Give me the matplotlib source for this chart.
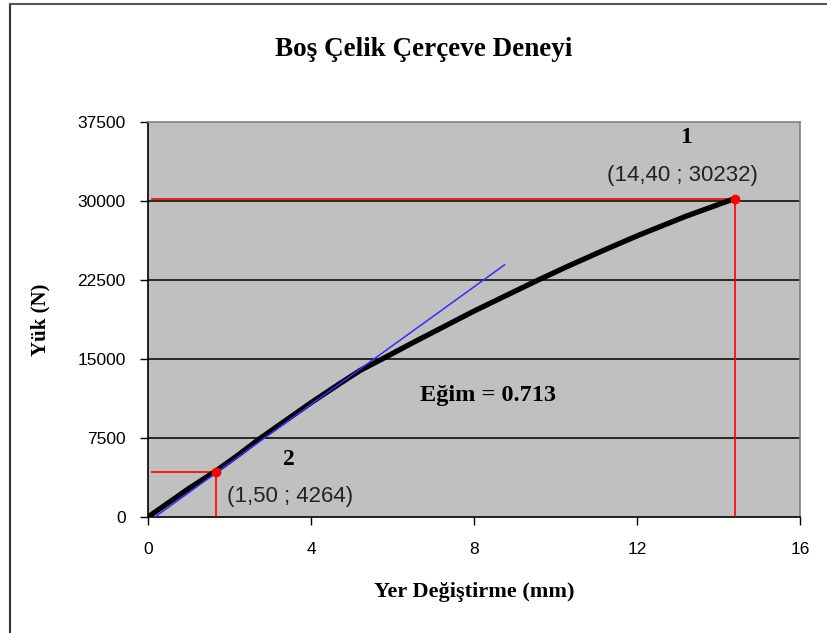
import matplotlib
matplotlib.use("Agg")
import matplotlib.pyplot as plt
from matplotlib.lines import Line2D

# Data
disp = [0, 0.5, 1.0, 1.66, 2.2, 2.71, 3.3, 4.0, 4.7, 5.2, 5.77, 6.5, 7.2, 8.0, 8.8,
        9.55, 10.3, 11.2, 12.07, 13.2, 14.4]
load = [0, 1350, 2700, 4350, 5850, 7350, 8950, 10850, 12650, 13900, 15050, 16550, 17950,
        19550, 21050, 22450, 23800, 25350, 26800, 28550, 30232]

tangent_x = [0.17, 8.75]
tangent_y = [0, 23940]

p1 = (14.40, 30232)
p2 = (1.66, 4264)
p1_label = "(14,40 ; 30232)"
p2_label = "(1,50 ; 4264)"
ref_line_start = 0.1

xticks = [0, 4, 8, 12, 16]
yticks = [0, 7500, 15000, 22500, 30000, 37500]

title = "Boş Çelik Çerçeve Deneyi"
xlabel = "Yer Değiştirme (mm)"
ylabel = "Yük (N)"
slope_text = "Eğim = 0.713"

serif = ["Liberation Serif", "DejaVu Serif"]
sans = ["Liberation Sans", "DejaVu Sans"]

fig = plt.figure(figsize=(8.27, 6.33), dpi=100)
ax = fig.add_axes([148/827, 1-517/633, (800-148)/827, (517-122)/633])
ax.set_facecolor("#C0C0C0")

ax.set_xlim(0, 16)
ax.set_ylim(0, 37500)
ax.set_xticks(xticks)
ax.set_yticks(yticks)
ax.set_xticklabels([str(t) for t in xticks], family=sans, fontsize=12.5)
ax.set_yticklabels([str(t) for t in yticks], family=sans, fontsize=12.5)
ax.tick_params(axis="x", direction="out", length=6, width=1, pad=12, color="black")
ax.tick_params(axis="y", direction="out", length=6, width=1, pad=10, color="black")

for y in yticks[1:-1]:
    ax.axhline(y, color="black", lw=1.1, zorder=1)

for s in ["top", "right"]:
    ax.spines[s].set_color("#808080")
    ax.spines[s].set_linewidth(1.2)
for s in ["left", "bottom"]:
    ax.spines[s].set_color("black")
    ax.spines[s].set_linewidth(1.2)

# red reference lines
ax.plot([ref_line_start, p1[0]], [p1[1], p1[1]], color="red", lw=1.2, zorder=3)
ax.plot([p1[0], p1[0]], [0, p1[1]], color="red", lw=1.2, zorder=3)
ax.plot([ref_line_start, p2[0]], [p2[1], p2[1]], color="red", lw=1.2, zorder=3)
ax.plot([p2[0], p2[0]], [0, p2[1]], color="red", lw=1.2, zorder=3)

# curve
ax.plot(disp, load, color="black", lw=3.8, zorder=4, solid_capstyle="round", solid_joinstyle="round")
# tangent
ax.plot(tangent_x, tangent_y, color="#3030FF", lw=1.1, zorder=5)

ax.plot([p1[0], p2[0]], [p1[1], p2[1]], "o", color="red", ms=6, zorder=6)

ax.text(13.2, 36000, "1", family=serif, fontweight="bold", fontsize=17, ha="center", va="center")
ax.text(13.12, 32400, p1_label, family=sans, fontsize=16, ha="center", va="center", color="#222222")
ax.text(3.45, 5500, "2", family=serif, fontweight="bold", fontsize=17, ha="center", va="center")
ax.text(3.48, 1900, p2_label, family=sans, fontsize=16, ha="center", va="center", color="#222222")
ax.text(8.35, 11500, slope_text, family=serif, fontweight="bold", fontsize=17.5, ha="center", va="center")

fig.text(424/827, 1-50/633, title, family=serif, fontweight="bold", fontsize=19.5, ha="center", va="center")
fig.text(474/827, 1-592/633, xlabel, family=serif, fontweight="bold", fontsize=16, ha="center", va="center")
fig.text(40/827, 1-320/633, ylabel, family=serif, fontweight="bold", fontsize=15, ha="center", va="center", rotation=90)

# outer frame (top and left visible)
fig.add_artist(Line2D([10/827, 10/827], [0, 1-4/633], transform=fig.transFigure, color="#333333", lw=1.5))
fig.add_artist(Line2D([10/827, 1], [1-4/633, 1-4/633], transform=fig.transFigure, color="#555555", lw=1.5))

fig.savefig("out.png", dpi=100, facecolor="white")
